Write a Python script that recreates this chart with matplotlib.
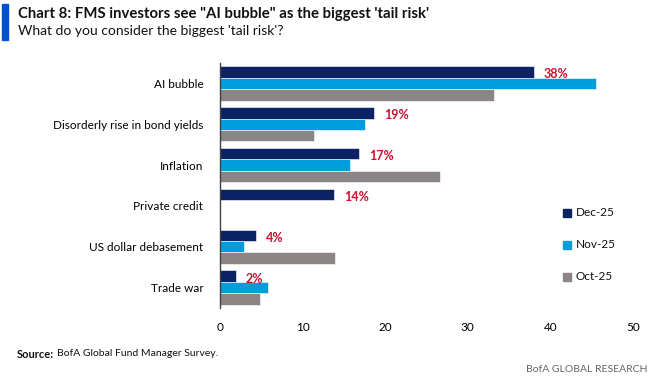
import matplotlib
matplotlib.use("Agg")
import matplotlib.pyplot as plt
from matplotlib.patches import Rectangle
import numpy as np

plt.rcParams['font.family'] = ['Lato', 'DejaVu Sans']

categories = ["AI bubble", "Disorderly rise in bond yields", "Inflation",
              "Private credit", "US dollar debasement", "Trade war"]
dec25 = [38.0, 18.7, 16.8, 13.8, 4.4, 1.9]
nov25 = [45.5, 17.5, 15.7, 0.0, 2.9, 5.8]
oct25 = [33.2, 11.4, 26.6, 0.0, 13.9, 4.8]
dec_labels = ["38%", "19%", "17%", "14%", "4%", "2%"]
series_names = ["Dec-25", "Nov-25", "Oct-25"]
colors = ["#0b2265", "#009ddc", "#8c8585"]
xticks = [0, 10, 20, 30, 40, 50]

W, H = 651, 383
fig = plt.figure(figsize=(W / 100, H / 100), dpi=100)

ax = fig.add_axes([220 / W, 1 - 308 / H, 413 / W, 245 / H])
n = len(categories)
ypos = np.arange(n)
bh = 0.28
for i, (vals, c) in enumerate(zip([dec25, nov25, oct25], colors)):
    ax.barh(ypos + (i - 1) * bh, vals, height=bh, color=c, edgecolor='white', linewidth=0.4)

for y, v, lab in zip(ypos, dec25, dec_labels):
    ax.text(v + 1.2, y - bh + 0.06, lab, color="#c8102e", fontsize=9, fontweight='bold',
            va='center', ha='left')

ax.set_ylim(n - 0.5, -0.5)
ax.set_xlim(0, 50)
ax.set_yticks(ypos)
ax.set_yticklabels(categories, fontsize=8.5)
ax.set_xticks(xticks)
ax.set_xticklabels([str(t) for t in xticks], fontsize=8.5)
ax.tick_params(axis='both', length=0)
ax.tick_params(axis='y', pad=12)
ax.tick_params(axis='x', pad=10)
for s in ['top', 'right', 'bottom']:
    ax.spines[s].set_visible(False)
ax.spines['left'].set_color('#404040')
ax.spines['left'].set_linewidth(1.0)

# legend
leg_y = [213, 245, 277]
for name, c, ly in zip(series_names, colors, leg_y):
    fig.patches.append(Rectangle((563 / W, 1 - (ly + 4) / H), 8 / W, 8 / H,
                                 transform=fig.transFigure, color=c))
    fig.text(576 / W, 1 - ly / H, name, fontsize=8.5, va='center', ha='left', color='#111111')

# title block
fig.patches.append(Rectangle((2 / W, 1 - 40 / H), 6 / W, 36 / H,
                             transform=fig.transFigure, color="#0052cc"))
fig.text(18 / W, 1 - 14 / H, "Chart 8: FMS investors see \"AI bubble\" as the biggest 'tail risk'",
         fontsize=10.75, fontweight='bold', va='center', ha='left', color='#111111')
fig.text(18 / W, 1 - 31 / H, "What do you consider the biggest 'tail risk'?",
         fontsize=10, va='center', ha='left', color='#111111')

fig.text(17 / W, 1 - 354 / H, "Source:", fontsize=8, fontweight='bold',
         va='center', ha='left', color='#111111')
fig.text(57 / W, 1 - 354 / H, "BofA Global Fund Manager Survey.",
         fontsize=7.5, va='center', ha='left', color='#111111')
fig.text(648 / W, 1 - 370 / H, "BofA GLOBAL RESEARCH", fontsize=7.5, va='center',
         ha='right', color='#666666')

fig.savefig("out.png", dpi=100)
